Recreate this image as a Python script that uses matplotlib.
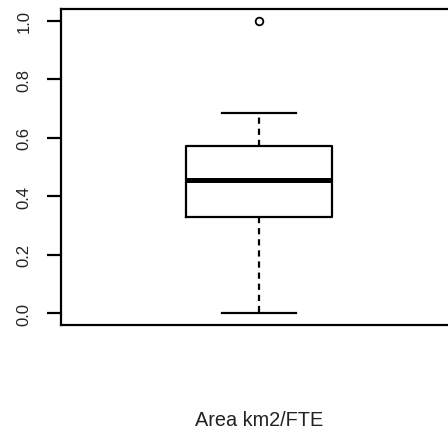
import matplotlib
matplotlib.use("Agg")
import matplotlib.pyplot as plt

# Data
label = "Area km2/FTE"
whisker_low = 0.0
q1 = 0.328
median = 0.455
q3 = 0.573
whisker_high = 0.684
outliers = [1.0]
yticks = [0.0, 0.2, 0.4, 0.6, 0.8, 1.0]
ytick_labels = ["0.0", "0.2", "0.4", "0.6", "0.8", "1.0"]

plt.rcParams['font.family'] = ['Liberation Sans', 'DejaVu Sans']

W, H = 448, 435
fig = plt.figure(figsize=(W / 100, H / 100), dpi=100)
# axes in pixel coordinates: left 61, right 457 (off-image), top 10, bottom 326
left, right, top, bottom = 61, 457, 10, 326
ax = fig.add_axes([left / W, 1 - bottom / H, (right - left) / W, (bottom - top) / H])

stats = [dict(med=median, q1=q1, q3=q3, whislo=whisker_low, whishi=whisker_high,
              fliers=outliers, label="")]
lw = 1.6
ax.bxp(stats, positions=[1], widths=0.8, showfliers=True,
       boxprops=dict(color='black', linewidth=lw),
       medianprops=dict(color='black', linewidth=3.6, solid_capstyle='butt'),
       whiskerprops=dict(color='black', linewidth=lw, linestyle=(0, (2.8, 2.2))),
       capprops=dict(color='black', linewidth=lw),
       capwidths=0.4,
       flierprops=dict(marker='o', markersize=5.5, markerfacecolor='none',
                       markeredgecolor='black', markeredgewidth=1.3))

ax.set_xlim(1 - 1.0776, 1 + 1.0776)
ylo = (326 - 314) / 292.0
yhi = (22 - 10) / 292.0
ax.set_ylim(0 - ylo, 1 + yhi)

for s in ['left', 'top', 'bottom', 'right']:
    ax.spines[s].set_linewidth(1.6)
    ax.spines[s].set_color('black')

ax.set_xticks([])
ax.set_yticks(yticks)
ax.set_yticklabels(ytick_labels, rotation=90, va='center', fontsize=12)
ax.tick_params(axis='y', length=10, width=1.6, pad=11, color='black', labelcolor='#222222')
ax.tick_params(axis='x', length=0)

fig.text(259 / W, 1 - 421 / H, label, ha='center', va='center', fontsize=14.3, color='#222222')

fig.savefig("out.png", dpi=100)
